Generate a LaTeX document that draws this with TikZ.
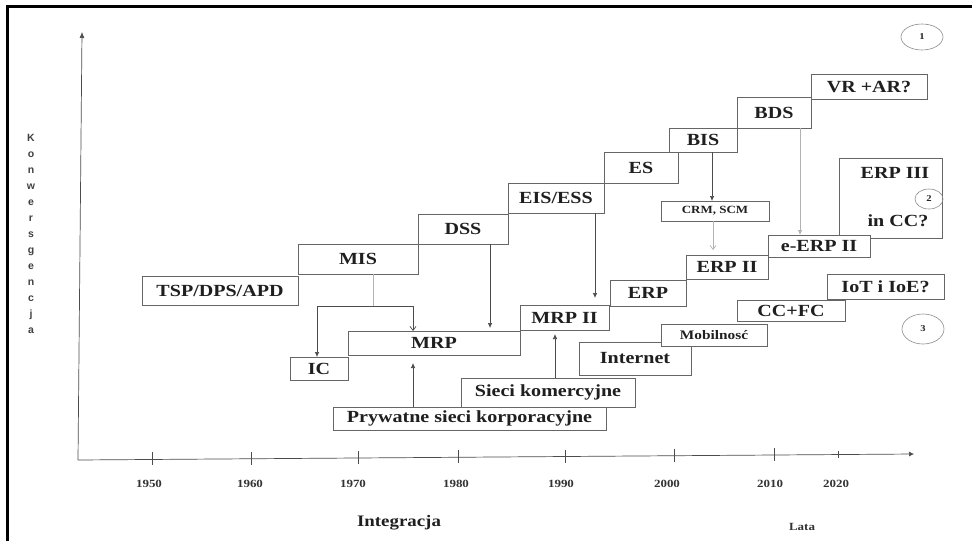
\documentclass[tikz,border=0pt]{standalone}
\usepackage{fontspec}
\setmainfont{Liberation Serif}
\newfontfamily\wideserif[FakeStretch=1.18]{Liberation Serif}
\newfontfamily\sanslbl{Liberation Sans}
\usetikzlibrary{arrows.meta,shapes.geometric}
\begin{document}
\begin{tikzpicture}[x=1pt,y=-1pt,
  stagebox/.style={draw=black!60, line width=0.8pt, fill=white, inner sep=0pt, outer sep=0pt,
    anchor=north west, text=black!88, font=\wideserif\bfseries\fontsize{17}{20}\selectfont},
  smallbox/.style={stagebox, font=\wideserif\bfseries\fontsize{11}{13}\selectfont},
  midbox/.style={stagebox, font=\wideserif\bfseries\fontsize{13}{15}\selectfont},
  plaintext/.style={text=black!88, inner sep=0pt, font=\wideserif\bfseries\fontsize{17}{20}\selectfont},
  link/.style={draw=black!70, line width=0.7pt},
  faint/.style={draw=black!30, line width=0.7pt},
  tipfilled/.style={-{Latex[length=5pt,width=4.5pt]}},
  tipopen/.style={-{Straight Barb[length=4pt,width=6pt]}},
  yearlbl/.style={text=black!80, font=\wideserif\bfseries\fontsize{11}{13}\selectfont},
  marker/.style={draw=black!45, line width=0.6pt, ellipse, inner sep=0pt, text=black!85,
    font=\wideserif\bfseries\fontsize{9}{11}\selectfont}
]
\useasboundingbox (0,0) rectangle (974,541);
\fill[white] (0,0) rectangle (974,541);

% frame
\draw[line width=3pt] (7,541) -- (7,6.5) -- (972,6.5);

% axes
\coordinate (origin) at (78,460);
\coordinate (ytop) at (82,32);
\coordinate (xend) at (914,454);
\draw[link, -{Latex[length=6pt,width=5pt]}] (origin) -- (ytop);
\draw[link, -{Latex[length=5pt,width=5pt]}] (origin) -- (xend);

\foreach \tx/\yr/\lx in {152/1950/149, 251/1960/250, 358/1970/353, 458/1980/456,
                         565/1990/561, 674/2000/667, 774/2010/770}{
  \pgfmathsetmacro\ay{460-6*(\tx-78)/836}
  \draw[link] (\tx,\ay-7) -- (\tx,\ay+6);
  \node[yearlbl] (y\yr) at (\lx,484) {\yr};
}
\draw[link] (838,451) -- (838,458);
\node[yearlbl] (y2020) at (836,484) {2020};

\node[text=black!88, font=\wideserif\bfseries\fontsize{16}{18}\selectfont] (xname) at (399,523) {Integracja};
\node[text=black!80, font=\wideserif\bfseries\fontsize{11}{13}\selectfont] (xunit) at (802,527) {Lata};
\node[align=center, text=black!75, font=\sanslbl\bfseries\fontsize{10.5}{16}\selectfont] (yname) at (31,234)
  {K\\o\\n\\w\\e\\r\\s\\g\\e\\n\\c\\j\\a};

% upper staircase
\node[stagebox, minimum width=156pt, minimum height=29pt] (tsp) at (142,276) {TSP/DPS/APD};
\node[stagebox, minimum width=120pt, minimum height=30pt] (mis) at (298,244) {MIS};
\node[stagebox, minimum width=90pt, minimum height=30pt] (dss) at (418,214) {DSS};
\node[stagebox, minimum width=96pt, minimum height=30pt] (eis) at (508,183) {EIS/ESS};
\node[stagebox, minimum width=74pt, minimum height=31pt] (es) at (604,152) {ES};
\node[stagebox, minimum width=68pt, minimum height=24pt] (bis) at (669,128) {BIS};
\node[stagebox, minimum width=74pt, minimum height=31pt] (bds) at (737,97) {BDS};
\node[stagebox, minimum width=116pt, minimum height=25pt] (vrar) at (811,74) {VR +AR?};

% lower staircase
\node[stagebox, minimum width=58pt, minimum height=23pt] (ic) at (290,357) {IC};
\node[stagebox, minimum width=172pt, minimum height=24pt] (mrp) at (348,331) {MRP};
\node[stagebox, minimum width=89pt, minimum height=25pt] (mrpii) at (520,305) {MRP II};
\node[stagebox, minimum width=76pt, minimum height=26pt] (erp) at (610,280) {ERP};
\node[stagebox, minimum width=82pt, minimum height=24pt] (erpii) at (686,255) {ERP II};
\node[stagebox, minimum width=103pt, minimum height=80pt] (erpiii) at (839,158) {};
\node[stagebox, minimum width=102pt, minimum height=22pt] (eerp) at (768,235) {e-ERP II};
\node[smallbox, minimum width=108pt, minimum height=20pt] (crm) at (661,201) {CRM, SCM};

\node[plaintext] (erpiiit) at (895,173) {ERP III};
\node[marker, minimum width=28pt, minimum height=20pt] (m2) at (929,199) {2};
\node[plaintext] (incc) at (898,221) {in CC?};

% networks and technologies
\node[stagebox, minimum width=117pt, minimum height=25pt] (iot) at (827,274) {IoT i IoE?};
\node[stagebox, minimum width=108pt, minimum height=21pt] (ccfc) at (737,300) {CC+FC};
\node[stagebox, minimum width=112pt, minimum height=33pt] (inet) at (579,342) {Internet};
\node[midbox, minimum width=106pt, minimum height=22pt] (mob) at (661,324) {Mobilnosć};
\node[stagebox, minimum width=174pt, minimum height=29pt] (sieci) at (461,378) {Sieci komercyjne};
\node[stagebox, minimum width=273pt, minimum height=23pt] (pryw) at (333,407) {Prywatne sieci korporacyjne};

% numbered markers
\node[marker, minimum width=42pt, minimum height=26pt] (m1) at (922,37) {1};
\node[marker, minimum width=42pt, minimum height=30pt] (m3) at (923,329) {3};

% connector guides
\path (712,0) coordinate (g1) (713,0) coordinate (g2) (800,0) coordinate (g3)
      (595,0) coordinate (g4) (490,0) coordinate (g5) (317,0) coordinate (g7)
      (413,0) coordinate (g8) (555,0) coordinate (g9);
\coordinate (fork) at (373,306);

% connectors
\draw[link, tipfilled] (bis.south -| g1) -- (crm.north -| g1);
\draw[faint, tipopen, shorten >=5pt] (crm.south -| g2) -- (erpii.north -| g2);
\draw[faint, tipfilled] (bds.south -| g3) -- (eerp.north -| g3);
\draw[link, tipfilled, shorten >=7pt] (eis.south -| g4) -- (mrpii.north -| g4);
\draw[link, tipfilled, shorten >=3pt] (dss.south -| g5) -- (mrp.north -| g5);
\draw[faint] (mis.south -| fork) -- (fork);
\draw[link, tipfilled] (fork) -| (ic.north -| g7);
\draw[link, tipopen] (fork) -| (mrp.north -| g8);
\draw[link, tipfilled, shorten >=8pt] (pryw.north -| g8) -- (mrp.south -| g8);
\draw[link, tipfilled, shorten >=4pt] (sieci.north -| g9) -- (mrpii.south -| g9);
\end{tikzpicture}
\end{document}
